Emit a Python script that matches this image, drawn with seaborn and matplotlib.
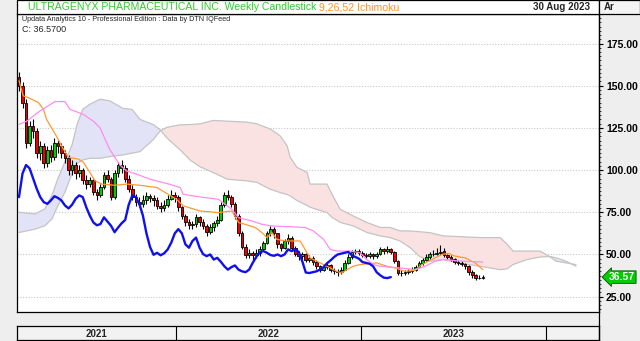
import numpy as np
import pandas as pd
import matplotlib
matplotlib.use("Agg")
import matplotlib.pyplot as plt
import seaborn as sns
from matplotlib.patches import Rectangle
from matplotlib.ticker import MultipleLocator

# weekly candles, last bar 30 Aug 2023
last_date = "2023-08-30"

opens = [155, 150, 140, 116, 126, 123, 110, 114, 104, 112,
         108, 116, 114, 110, 107, 100, 103, 98, 100, 94,
         92, 94, 87, 85, 90, 97, 95, 84, 98, 103,
         101, 95, 89, 84, 81, 80, 82, 84.5, 83.5, 82,
         79, 77.3, 79.5, 83, 85, 84, 78, 73, 69, 67.3,
         68, 72, 69.5, 67, 63.2, 66, 68.5, 70.5, 79.5, 85,
         84, 80, 73, 62.5, 54.5, 49.8, 51, 49.5, 50.7, 53,
         57, 62.5, 65, 62.5, 56, 54, 58, 60, 54, 50.2,
         49, 50, 47, 48, 45.7, 43, 41, 42.5, 43.5, 41,
         40, 39.5, 41, 45, 48.5, 51.2, 52, 51, 49.7, 49.2,
         50, 49, 50, 53, 52, 53, 51.5, 46, 39.3, 39,
         39.5, 40, 41, 42.5, 44.8, 46.5, 48.5, 50, 50.5, 51,
         52, 49.5, 48.5, 47.5, 45.5, 45, 44.5, 43, 39.5, 37.7,
         36.3, 36]
closes = [150, 140, 116, 126, 123, 110, 114, 104, 112, 108,
          116, 114, 110, 107, 100, 103, 98, 100, 94, 92,
          94, 87, 85, 90, 97, 95, 84, 98, 103, 101,
          95, 89, 84, 81, 80, 82, 84.5, 83.5, 82, 79,
          77.3, 79.5, 83, 85, 84, 78, 73, 69, 67.3, 68,
          72, 69.5, 67, 63.2, 66, 68.5, 70.5, 79.5, 85, 84,
          80, 73, 62.5, 54.5, 49.8, 51, 49.5, 50.7, 53, 57,
          62.5, 65, 62.5, 56, 54, 58, 60, 54, 50.2, 49,
          50, 47, 48, 45.7, 43, 41, 42.5, 43.5, 41, 40,
          39.5, 41, 45, 48.5, 51.2, 52, 51, 49.7, 49.2, 50,
          49, 50, 53, 52, 53, 51.5, 46, 39.3, 39, 39.5,
          40, 41, 42.5, 44.8, 46.5, 48.5, 50, 50.5, 51, 51.5,
          49.5, 48.5, 47.5, 45.5, 45, 44.5, 43, 39.5, 37.7, 36.3,
          36, 36.57]
highs = [158, 152, 142, 129, 130, 125, 117, 116, 114, 115,
         119, 118, 116, 112, 109, 106, 105, 103, 101, 97,
         96, 95, 89, 92, 99, 100, 96, 100, 105, 106,
         103, 97, 91, 86, 84, 85, 87, 86, 85, 84,
         81, 82, 85, 88, 87, 85, 79, 74, 71, 70,
         74, 73, 71, 68, 68, 70, 73, 81, 87, 88,
         85, 81, 74, 64, 56, 53, 52, 53, 55, 58,
         64, 67, 66, 63, 57, 59, 62, 61, 55, 52,
         51.5, 51, 49.5, 49, 46.5, 44, 44, 45, 44.5, 42,
         41.5, 42.5, 46.5, 50, 52.5, 53.5, 53, 52, 51, 51.5,
         51, 51.5, 54.5, 54, 55, 54, 52, 46.5, 41, 41,
         41.5, 42.5, 44, 46, 48, 50, 51.5, 52.5, 54, 55.5,
         54, 50.5, 49.5, 48, 46.5, 46, 45, 43.5, 40.5, 38.5,
         38, 37.8]
lows = [147, 137, 113, 114, 119, 107, 106, 101, 102, 105,
        106, 110, 107, 104, 97, 97, 95, 96, 92, 89,
        90, 85, 82, 84, 89, 93, 82, 83, 96, 98,
        93, 87, 82, 79, 78, 78, 80, 81, 79, 77,
        75, 76, 78, 82, 81, 76, 71, 67, 65, 65,
        66, 67, 65, 61, 62, 64, 67, 70, 78, 82,
        78, 71, 61, 53, 48, 48, 47, 48, 49, 52,
        56, 61, 60, 54, 52, 53, 56, 52, 49, 47,
        47.5, 45.5, 45.5, 44, 41.5, 39.5, 40, 41.5, 39.5, 38.5,
        37.5, 38.5, 40.5, 44.5, 47.5, 50, 49.5, 48.5, 48, 48,
        47.5, 48, 49.5, 50.5, 51, 50, 45, 38, 37.5, 38,
        38.5, 39, 40, 42, 44, 46, 47.5, 49, 49.5, 49.5,
        48.5, 47.5, 46, 44.5, 43.5, 43, 41.5, 38, 36, 35,
        35.5, 35.3]

# Ichimoku lines (week index, value)
tenkan_wk = [0, 1.2, 2.6, 5.5, 6.9, 7.8, 9.2, 10.6, 12, 13.9,
             16.8, 18.2, 20, 21.5, 23.4, 27.1, 30.4, 34.2, 38.9, 44.5,
             46.4, 51.1, 56.3, 60.1, 62, 63.8, 66.7, 68.6, 70, 71.4,
             72.8, 75.1, 79.4, 80.8, 82.2, 84.1, 86, 87.9, 89.7, 91.2,
             92.6, 94.4, 96.3, 101, 103.9, 106.2, 109, 111.9, 113.8, 116.6,
             119.4, 121.3, 123.2, 126, 128.8, 131]
tenkan_val = [153, 144, 143, 140, 136, 130, 125, 120, 114.5, 107.6,
              106.5, 104.6, 98.6, 93.6, 91.7, 91, 91.7, 91, 89.7, 82.7,
              78.8, 75.8, 74.8, 75.8, 68.9, 67.9, 66, 63, 60, 63,
              59, 58, 58, 53, 48, 46, 44, 42, 40, 39,
              41, 43, 44, 45, 43, 42, 40, 40.6, 44, 47,
              50, 50.6, 49, 48, 45, 41]
kijun_wk = [0, 2.2, 5.9, 10.2, 13, 14.4, 18.2, 21, 22.9, 24.8,
            25.7, 28.5, 30.4, 33.2, 37, 42.7, 45.5, 46.4, 49.2, 52.5,
            56.3, 60.1, 62, 65.7, 68.6, 71.4, 80.8, 83.1, 86, 87.9,
            89.7, 93.5, 96.3, 98.2, 100.1, 102, 107.6, 111.9, 114.7, 117.5,
            119.9, 125.1, 131]
kijun_val = [127, 129, 135, 140.6, 140.6, 136, 133, 129, 125, 116,
             112, 103, 99.5, 97.6, 94.6, 91.5, 89.7, 85.7, 84.7, 83.7,
             82.7, 76.8, 71.8, 69.9, 67.9, 66.9, 66, 64, 59, 53,
             52, 52, 51, 47, 44, 43, 42, 41, 43, 46,
             47, 46, 45.5]
cloud_wk = [0, 4.5, 7.3, 9.3, 11, 13, 15, 16.4, 18, 20,
            22.9, 25.7, 29.4, 31.9, 34.2, 37.9, 39.8, 41.8, 45.5, 48.3,
            51.1, 54.8, 58.8, 64.4, 67.2, 70.9, 73.7, 75.7, 76.6, 78.5,
            81.4, 82.2, 87, 88.4, 90.7, 94.4, 98.3, 102, 104.8, 107.6,
            110.5, 113, 116.1, 119.8, 125, 130.2, 135.9, 137.9, 139.5, 143.5,
            147.2, 150, 151.7, 154.5, 157.3]
span_a = [75, 74, 77, 85, 95, 105, 115, 127, 136, 139,
          142, 141, 136.5, 136, 130, 127, 124, 119, 112, 106,
          102, 98.6, 94.6, 93.6, 92.7, 88.7, 86.7, 85.5, 84.7, 82,
          79, 78, 74.8, 72, 69, 66.9, 63, 61, 60, 58,
          54, 49, 46, 47, 44.7, 43, 41, 41.5, 44, 47,
          48.5, 48.8, 48, 46, 43]
span_b = [63, 65, 67, 71, 79, 87, 98, 104, 106, 107,
          107, 108, 109, 110, 111, 118, 123, 125.4, 126.8, 127,
          127.4, 129.4, 129, 128.4, 127.4, 124.4, 120.4, 114.5, 107.6, 101.6,
          98.6, 91.7, 91.7, 85.7, 76.8, 72.8, 68.9, 66, 66, 64,
          63.9, 63.5, 62.9, 61, 60.5, 60, 60, 56, 52, 52,
          52, 48.5, 46, 45, 44]
lag = 26
y_ticks = [25, 50, 75, 100, 125, 150, 175]
years = [2021, 2022, 2023]

W, H = 640, 341


def fx(x):
    return x / W


def fy(y):
    return 1 - y / H


sns.set_style("white")
plt.rcParams["font.family"] = ["Liberation Sans", "DejaVu Sans"]

o = np.array(opens)
c = np.array(closes)
weeks = np.arange(len(c))
dates = pd.date_range(end=last_date, periods=len(c), freq="7D")

fig = plt.figure(figsize=(6.4, 3.41), dpi=100, facecolor="#eeeeee")

# main price panel
ax = fig.add_axes([fx(17), fy(312), fx(582), (312 - 14) / H], facecolor="white")
xmin, xmax = -0.56, 163.8
ax.set_xlim(xmin, xmax)
ax.set_ylim(15.9, 192.5)

ax.grid(axis="y", color="#c8c8c8", linestyle=(0, (1, 1.5)), linewidth=0.8)
ax.set_axisbelow(True)

ca = np.array(span_a)
cb = np.array(span_b)
ax.fill_between(cloud_wk, ca, cb, where=ca >= cb, interpolate=True,
                color="#e3e3f7", linewidth=0, zorder=1)
ax.fill_between(cloud_wk, ca, cb, where=ca < cb, interpolate=True,
                color="#fae2e2", linewidth=0, zorder=1)
sns.lineplot(x=cloud_wk, y=span_a, ax=ax, color="#c4c4c4", linewidth=0.9, zorder=2)
sns.lineplot(x=cloud_wk, y=span_b, ax=ax, color="#c4c4c4", linewidth=0.9, zorder=2)

# candles
up = c >= o
ax.vlines(weeks, lows, highs, color="black", linewidth=0.8, zorder=3)
ax.bar(weeks, np.abs(c - o), bottom=np.minimum(o, c), width=0.75,
       color=np.where(up, "#00cc00", "#ee0000"), edgecolor="black",
       linewidth=0.6, zorder=3)

sns.lineplot(x=tenkan_wk, y=tenkan_val, ax=ax, color="#ff9933", linewidth=0.9, zorder=4)
sns.lineplot(x=kijun_wk, y=kijun_val, ax=ax, color="#ff8cf0", linewidth=0.9, zorder=4)
sns.lineplot(x=weeks[lag:] - lag, y=c[lag:], ax=ax, color="#1010ee", linewidth=1.7, zorder=4)

ax.set_xticks([])
ax.set_xlabel("")
ax.set_ylabel("")
ax.yaxis.tick_right()
ax.set_yticks(y_ticks)
ax.set_yticklabels([f"{v:.2f}" for v in y_ticks])
ax.yaxis.set_minor_locator(MultipleLocator(2.5))
ax.tick_params(axis="y", which="major", direction="out", length=3, width=0.8,
               pad=2, labelsize=7.5, colors="black")
ax.tick_params(axis="y", which="minor", direction="out", length=1.5, width=0.6)
for lbl in ax.get_yticklabels():
    lbl.set_fontweight("bold")
for s in ax.spines.values():
    s.set_color("black")
    s.set_linewidth(0.9)

# last price tag
ax.annotate(f"{closes[-1]:.2f}", xy=(1.0, closes[-1]), xycoords=("axes fraction", "data"),
            xytext=(7, 0), textcoords="offset points", va="center", ha="left",
            color="white", fontsize=7.5, fontweight="bold", annotation_clip=False,
            bbox=dict(boxstyle="larrow,pad=0.12", fc="#00cc00", ec="#005500", lw=0.6))

# year strip
ax_yr = fig.add_axes([fx(17), fy(340), fx(582), 14 / H], facecolor="#f2f2f2")
ax_yr.set_xlim(xmin, xmax)
ax_yr.set_ylim(0, 1)
ax_yr.set_xticks([])
ax_yr.set_yticks([])
bounds = [(pd.Timestamp(f"{y}-01-01") - dates[0]).days / 7 for y in years + [years[-1] + 1]]
ax_yr.vlines(bounds, 0, 1, color="black", linewidth=0.8)
for i, y in enumerate(years):
    lo = max(bounds[i], xmin)
    hi = bounds[i + 1]
    ax_yr.text((lo + hi) / 2, 0.45, str(y), ha="center", va="center",
               fontsize=7, fontweight="bold")
for s in ax_yr.spines.values():
    s.set_color("black")
    s.set_linewidth(0.9)

# header
fig.add_artist(Rectangle((fx(17), fy(14)), fx(582), 14 / H, transform=fig.transFigure,
                         facecolor="white", edgecolor="black", linewidth=0.9))
fig.add_artist(Rectangle((fx(599), fy(14)), fx(41), 14 / H, transform=fig.transFigure,
                         facecolor="#f4f4f4", edgecolor="black", linewidth=0.9))
fig.add_artist(plt.Line2D([fx(599), fx(599)], [fy(341), fy(14)], transform=fig.transFigure,
                          color="black", linewidth=0.9))
t1 = fig.text(fx(28), fy(7.5), "ULTRAGENYX PHARMACEUTICAL INC. Weekly Candlestick",
              color="#2ecc2e", fontsize=7.6, va="center", ha="left")
fig.canvas.draw()
t1_end = t1.get_window_extent().x1 / fig.bbox.width
fig.text(t1_end + fx(3), fy(7.5), "9,26,52 Ichimoku", color="#ff9422", fontsize=7.6,
         va="center", ha="left")
fig.text(fx(590), fy(7.5), "30 Aug 2023", fontsize=7, fontweight="bold",
         va="center", ha="right")
fig.text(fx(604), fy(7.5), "Ar", fontsize=7, fontweight="bold", va="center", ha="left")
fig.text(fx(22), fy(19.5), "Updata Analytics 10 - Professional Edition : Data by DTN IQFeed",
         fontsize=5.2, va="center", ha="left")
fig.text(fx(22), fy(29.5), "C: 36.5700", fontsize=6.5, va="center", ha="left")

fig.savefig("out.png", dpi=100, facecolor=fig.get_facecolor())
